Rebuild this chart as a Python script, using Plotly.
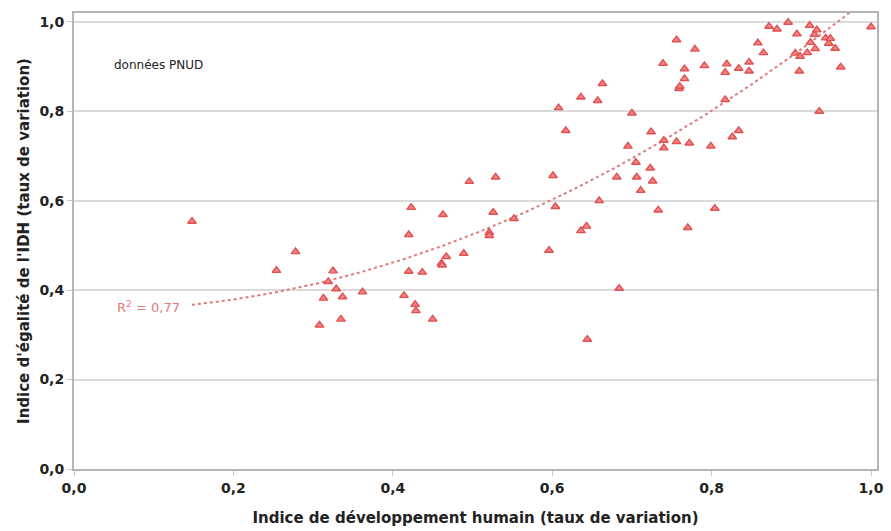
import numpy as np
import plotly.graph_objects as go

# Indice de développement humain (taux de variation)
idh = [0.148, 0.254, 0.278, 0.308, 0.313, 0.319, 0.325, 0.329, 0.335, 0.337,
       0.362, 0.414, 0.420, 0.420, 0.423, 0.428, 0.429, 0.437, 0.450, 0.461,
       0.462, 0.463, 0.467, 0.489, 0.496, 0.521, 0.521, 0.526, 0.529, 0.552,
       0.596, 0.601, 0.604, 0.608, 0.617, 0.636, 0.636, 0.643, 0.644, 0.657,
       0.659, 0.663, 0.681, 0.684, 0.695, 0.700, 0.705, 0.706, 0.711, 0.723,
       0.724, 0.726, 0.733, 0.739, 0.740, 0.740, 0.756, 0.756, 0.759, 0.760,
       0.766, 0.766, 0.770, 0.772, 0.779, 0.791, 0.799, 0.804, 0.817, 0.817,
       0.819, 0.826, 0.834, 0.834, 0.847, 0.847, 0.858, 0.865, 0.872, 0.882,
       0.896, 0.905, 0.907, 0.910, 0.911, 0.920, 0.923, 0.924, 0.929, 0.930,
       0.932, 0.935, 0.943, 0.947, 0.949, 0.955, 0.962, 1.000]
# Indice d'égalité de l'IDH (taux de variation)
egalite = [0.554, 0.444, 0.486, 0.322, 0.382, 0.419, 0.443, 0.403, 0.335, 0.385,
           0.396, 0.388, 0.524, 0.442, 0.585, 0.368, 0.354, 0.440, 0.335, 0.460,
           0.456, 0.569, 0.475, 0.482, 0.643, 0.529, 0.522, 0.574, 0.653, 0.560,
           0.489, 0.656, 0.587, 0.808, 0.757, 0.832, 0.533, 0.543, 0.290, 0.824,
           0.600, 0.862, 0.653, 0.404, 0.722, 0.796, 0.686, 0.653, 0.623, 0.673,
           0.754, 0.644, 0.579, 0.907, 0.735, 0.718, 0.960, 0.732, 0.851, 0.856,
           0.895, 0.873, 0.540, 0.729, 0.939, 0.902, 0.722, 0.583, 0.826, 0.887,
           0.906, 0.743, 0.896, 0.757, 0.910, 0.890, 0.953, 0.931, 0.990, 0.984,
           0.999, 0.930, 0.973, 0.890, 0.923, 0.931, 0.992, 0.954, 0.972, 0.940,
           0.982, 0.800, 0.964, 0.952, 0.963, 0.941, 0.899, 0.989]

x_ticks = [0.0, 0.2, 0.4, 0.6, 0.8, 1.0]
y_ticks = [0.0, 0.2, 0.4, 0.6, 0.8, 1.0]
source_label = "données PNUD"
r2_label = "R<sup>2</sup> = 0,77"
x_title = "Indice de développement humain (taux de variation)"
y_title = "Indice d'égalité de l'IDH (taux de variation)"

# polynomial (order 2) trendline fitted on the data
xa = np.array(idh)
ya = np.array(egalite)
coef = np.polyfit(xa, ya, 2)
xt = np.linspace(xa.min(), xa.max(), 200)
yt = np.polyval(coef, xt)

FONT = "DejaVu Sans"
marker_red = "#e05050"
trend_col = "#e07b7b"

fig = go.Figure()
fig.add_trace(go.Scatter(
    x=xt, y=yt, mode="lines",
    line=dict(color=trend_col, width=2, dash="dot"),
    hoverinfo="skip", showlegend=False))
fig.add_trace(go.Scatter(
    x=idh, y=egalite, mode="markers",
    marker=dict(symbol="triangle-up", size=7.5, color="#f08583",
                line=dict(color=marker_red, width=1.4)),
    showlegend=False, cliponaxis=False))

fig.add_annotation(x=0.106, y=0.903, xref="x", yref="y", text=source_label,
                   showarrow=False, font=dict(family=FONT, size=12, color="#222"))
fig.add_annotation(x=0.094, y=0.363, xref="x", yref="y", text=r2_label,
                   showarrow=False, font=dict(family=FONT, size=13, color=trend_col))

fig.update_layout(
    width=891, height=531,
    margin=dict(l=74, r=7, t=13, b=61),
    paper_bgcolor="white", plot_bgcolor="white",
    separators=", ",
    font=dict(family=FONT, color="#222"),
    xaxis=dict(range=[0, 1.0075], tickvals=x_ticks, tickformat=".1f",
               showgrid=False, zeroline=False,
               showline=True, linecolor="#b4b4b4", linewidth=2, mirror=True,
               ticks="outside", ticklen=5, tickcolor="#c8c8c8",
               tickfont=dict(family=FONT, size=14, weight="bold", color="#222"),
               title=dict(text=x_title, standoff=18,
                          font=dict(family=FONT, size=15, weight="bold", color="#222"))),
    yaxis=dict(range=[0, 1.02], tickvals=y_ticks, tickformat=".1f",
               showgrid=True, gridcolor="#dadada", gridwidth=2, zeroline=False,
               showline=True, linecolor="#b4b4b4", linewidth=2, mirror=True,
               ticks="outside", ticklen=5, tickcolor="#c8c8c8",
               tickfont=dict(family=FONT, size=14, weight="bold", color="#222"),
               title=dict(text=y_title, standoff=6,
                          font=dict(family=FONT, size=15, weight="bold", color="#222"))),
)

fig.write_html("out.html")
